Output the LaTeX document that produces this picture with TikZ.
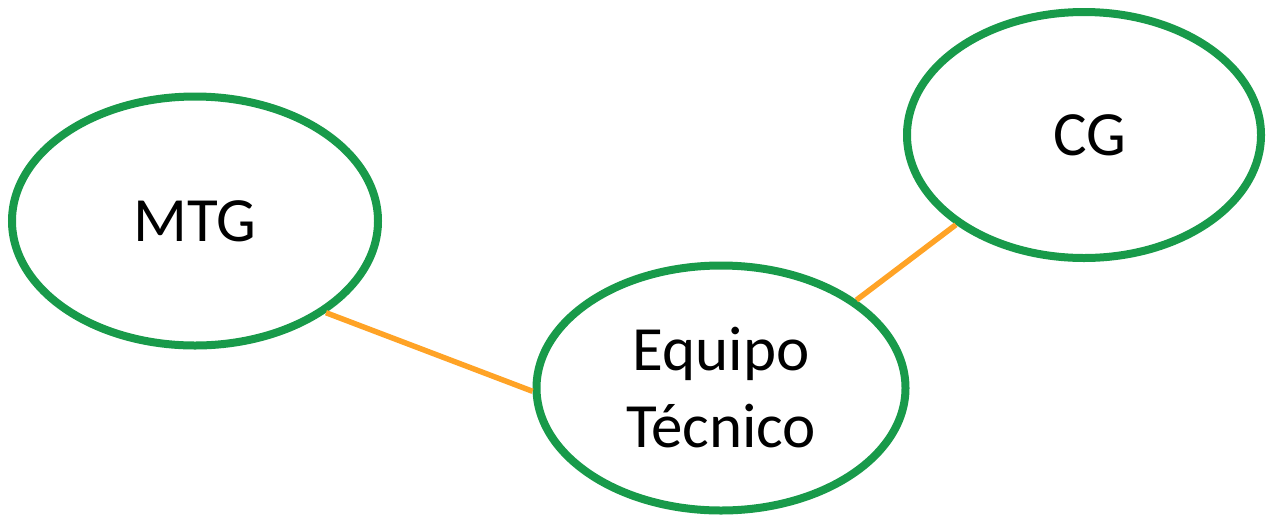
\documentclass[tikz,border=0pt]{standalone}
\usepackage{fontspec}
\setmainfont{Carlito}
\usetikzlibrary{shapes.geometric}
\definecolor{ringgreen}{RGB}{24,154,74}
\definecolor{linkorange}{RGB}{255,163,38}
\begin{document}
\begin{tikzpicture}[x=1pt,y=-1pt,
  ring/.style={ellipse, draw=ringgreen, line width=8pt, inner sep=0pt, fill=white,
    font=\fontsize{63}{77}\selectfont, align=center},
  link/.style={draw=linkorange, line width=5.5pt}]
\useasboundingbox (0,0) rectangle (1268,523);
\node[ring, minimum width=366pt, minimum height=249pt] (mtg) at (195,221) {MTG};
\node[ring, minimum width=369pt, minimum height=245pt] (eq) at (721,388) {Equipo\\Técnico};
\node[ring, minimum width=354pt, minimum height=246pt] (cg) at (1084,135) {\hspace*{12pt}CG};
\draw[link] (mtg.-35) -- (eq.181);
\draw[link] (eq.33.7) -- (cg.215.4);
\end{tikzpicture}
\end{document}
